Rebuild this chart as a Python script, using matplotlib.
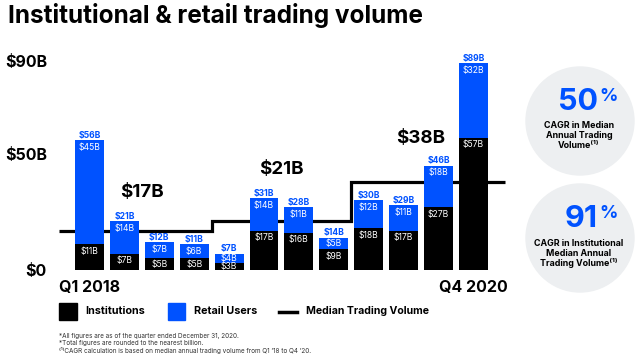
import matplotlib
matplotlib.use("Agg")
import matplotlib.pyplot as plt
from matplotlib.patches import Circle, Rectangle
from matplotlib.lines import Line2D

# ---------------- data ----------------
quarters = ["Q1 2018", "Q2 2018", "Q3 2018", "Q4 2018",
            "Q1 2019", "Q2 2019", "Q3 2019", "Q4 2019",
            "Q1 2020", "Q2 2020", "Q3 2020", "Q4 2020"]
institutions = [11, 7, 5, 5, 3, 17, 16, 9, 18, 17, 27, 57]
retail = [45, 14, 7, 6, 4, 14, 11, 5, 12, 11, 18, 32]
totals = [56, 21, 12, 11, 7, 31, 28, 14, 30, 29, 46, 89]
median_years = ["2018", "2019", "2020"]
median_values = [17, 21, 38]
median_labels = ["$17B", "$21B", "$38B"]
ytick_values = [0, 50, 90]
ytick_labels = ["$0", "$50B", "$90B"]
xtick_labels = ["Q1 2018", "Q4 2020"]
stat1_value = "50"
stat1_text = ["CAGR in Median", "Annual Trading", "Volume\u207d\u00b9\u207e"]
stat2_value = "91"
stat2_text = ["CAGR in Institutional", "Median Annual", "Trading Volume\u207d\u00b9\u207e"]
footnotes = ["*All figures are as of the quarter ended December 31, 2020.",
             "*Total figures are rounded to the nearest billion.",
             "\u207d\u00b9\u207eCAGR calculation is based on median annual trading volume from Q1 \u201918 to Q4 \u201920."]

# ---------------- style ----------------
BLUE = "#0052FF"
FONT = "Inter"
plt.rcParams['font.family'] = [FONT, 'DejaVu Sans']

W, H = 640, 360
fig = plt.figure(figsize=(6.4, 3.6), dpi=100)
fig.patch.set_facecolor("white")

# main chart axes (pixel placement)
ax_l, ax_r, ax_t, ax_b = 55, 510, 60, 270
ax = fig.add_axes([ax_l / W, 1 - ax_b / H, (ax_r - ax_l) / W, (ax_b - ax_t) / H])
pitch = 34.9
x0 = 89.5
ax.set_xlim((ax_l - x0) / pitch, (ax_r - x0) / pitch)
ymax = 90.5
ax.set_ylim(0, ymax)
px_per_unit = (ax_b - ax_t) / ymax

x = list(range(len(quarters)))
ax.bar(x, institutions, width=0.83, color="black", zorder=3)
ax.bar(x, retail, bottom=institutions, width=0.83, color=BLUE, zorder=3)

# median step line
edges = [-0.87, 3.5, 7.5, 11.9]
ax.stairs(median_values, edges, baseline=None, color="black", lw=2.3, zorder=2)

PT = 0.72  # points per pixel
for i in x:
    inst = institutions[i]
    ret = retail[i]
    top_inst = inst
    top_all = inst + ret
    off_i = min(7, inst * px_per_unit / 2)
    off_r = min(7, ret * px_per_unit / 2)
    ax.annotate(f"${inst}B", (i, top_inst), xytext=(0, -off_i * PT), textcoords="offset points",
                ha="center", va="center", color="white", fontsize=6.2, zorder=4)
    ax.annotate(f"${ret}B", (i, top_all), xytext=(0, -off_r * PT), textcoords="offset points",
                ha="center", va="center", color="white", fontsize=6.2, zorder=4)
    ax.annotate(f"${totals[i]}B", (i, top_all), xytext=(0, 5 * PT), textcoords="offset points",
                ha="center", va="center", color=BLUE, fontsize=6.2, fontweight="bold", zorder=4)

label_pos_x = [1.5, 5.5, 9.5]
label_pos_y = [33.6, 43.5, 56.5]
for lx, ly, lab in zip(label_pos_x, label_pos_y, median_labels):
    ax.text(lx, ly, lab, ha="center", va="center", fontsize=13.5, fontweight="bold", clip_on=False)

ax.set_yticks(ytick_values, ytick_labels)
ax.set_xticks([0, len(quarters) - 1], xtick_labels)
ax.tick_params(axis="both", length=0, labelsize=11.5)
ax.tick_params(axis="y", pad=5.8)
ax.tick_params(axis="x", pad=7.5)
for lab in ax.get_yticklabels() + ax.get_xticklabels():
    lab.set_fontweight("bold")
for s in ax.spines.values():
    s.set_visible(False)
ax.patch.set_alpha(0)

# ---------------- overlay in pixel coordinates ----------------
ov = fig.add_axes([0, 0, 1, 1])
ov.set_xlim(0, W)
ov.set_ylim(H, 0)
ov.axis("off")

ov.text(8, 15, "Institutional & retail trading volume", fontsize=17.5, fontweight="bold",
        ha="left", va="center")

# legend
ov.add_patch(Rectangle((59, 303), 18, 17, color="black"))
ov.text(85, 311.5, "Institutions", fontsize=7.8, fontweight="bold", va="center", ha="left")
ov.add_patch(Rectangle((168, 303), 17, 17, color=BLUE))
ov.text(194, 311.5, "Retail Users", fontsize=7.8, fontweight="bold", va="center", ha="left")
ov.add_line(Line2D([279, 297], [311.5, 311.5], color="black", lw=2.5))
ov.text(306, 311.5, "Median Trading Volume", fontsize=7.6, fontweight="bold", va="center", ha="left")

# footnotes
for fy, ft in zip([336, 343.5, 351], footnotes):
    ov.text(59, fy, ft, fontsize=4.6, color="#333333", va="center", ha="left")

# circles
GREY = "#EDEFF1"
for cy, val, lines in [(121, stat1_value, stat1_text), (238, stat2_value, stat2_text)]:
    ov.add_patch(Circle((580, cy), 54, color=GREY, zorder=1))
    ov.text(598, cy - 11, val, fontsize=22, fontweight="bold", color=BLUE,
            ha="right", va="baseline", zorder=2)
    ov.text(599, cy - 33, "%", fontsize=13, fontweight="bold", color=BLUE,
            ha="left", va="top", zorder=2)
    for j, ln in enumerate(lines):
        ov.text(579, cy + 5 + 10 * j, ln, fontsize=6.4, fontweight="bold",
                ha="center", va="center", zorder=2)

fig.savefig("out.png", dpi=100)
